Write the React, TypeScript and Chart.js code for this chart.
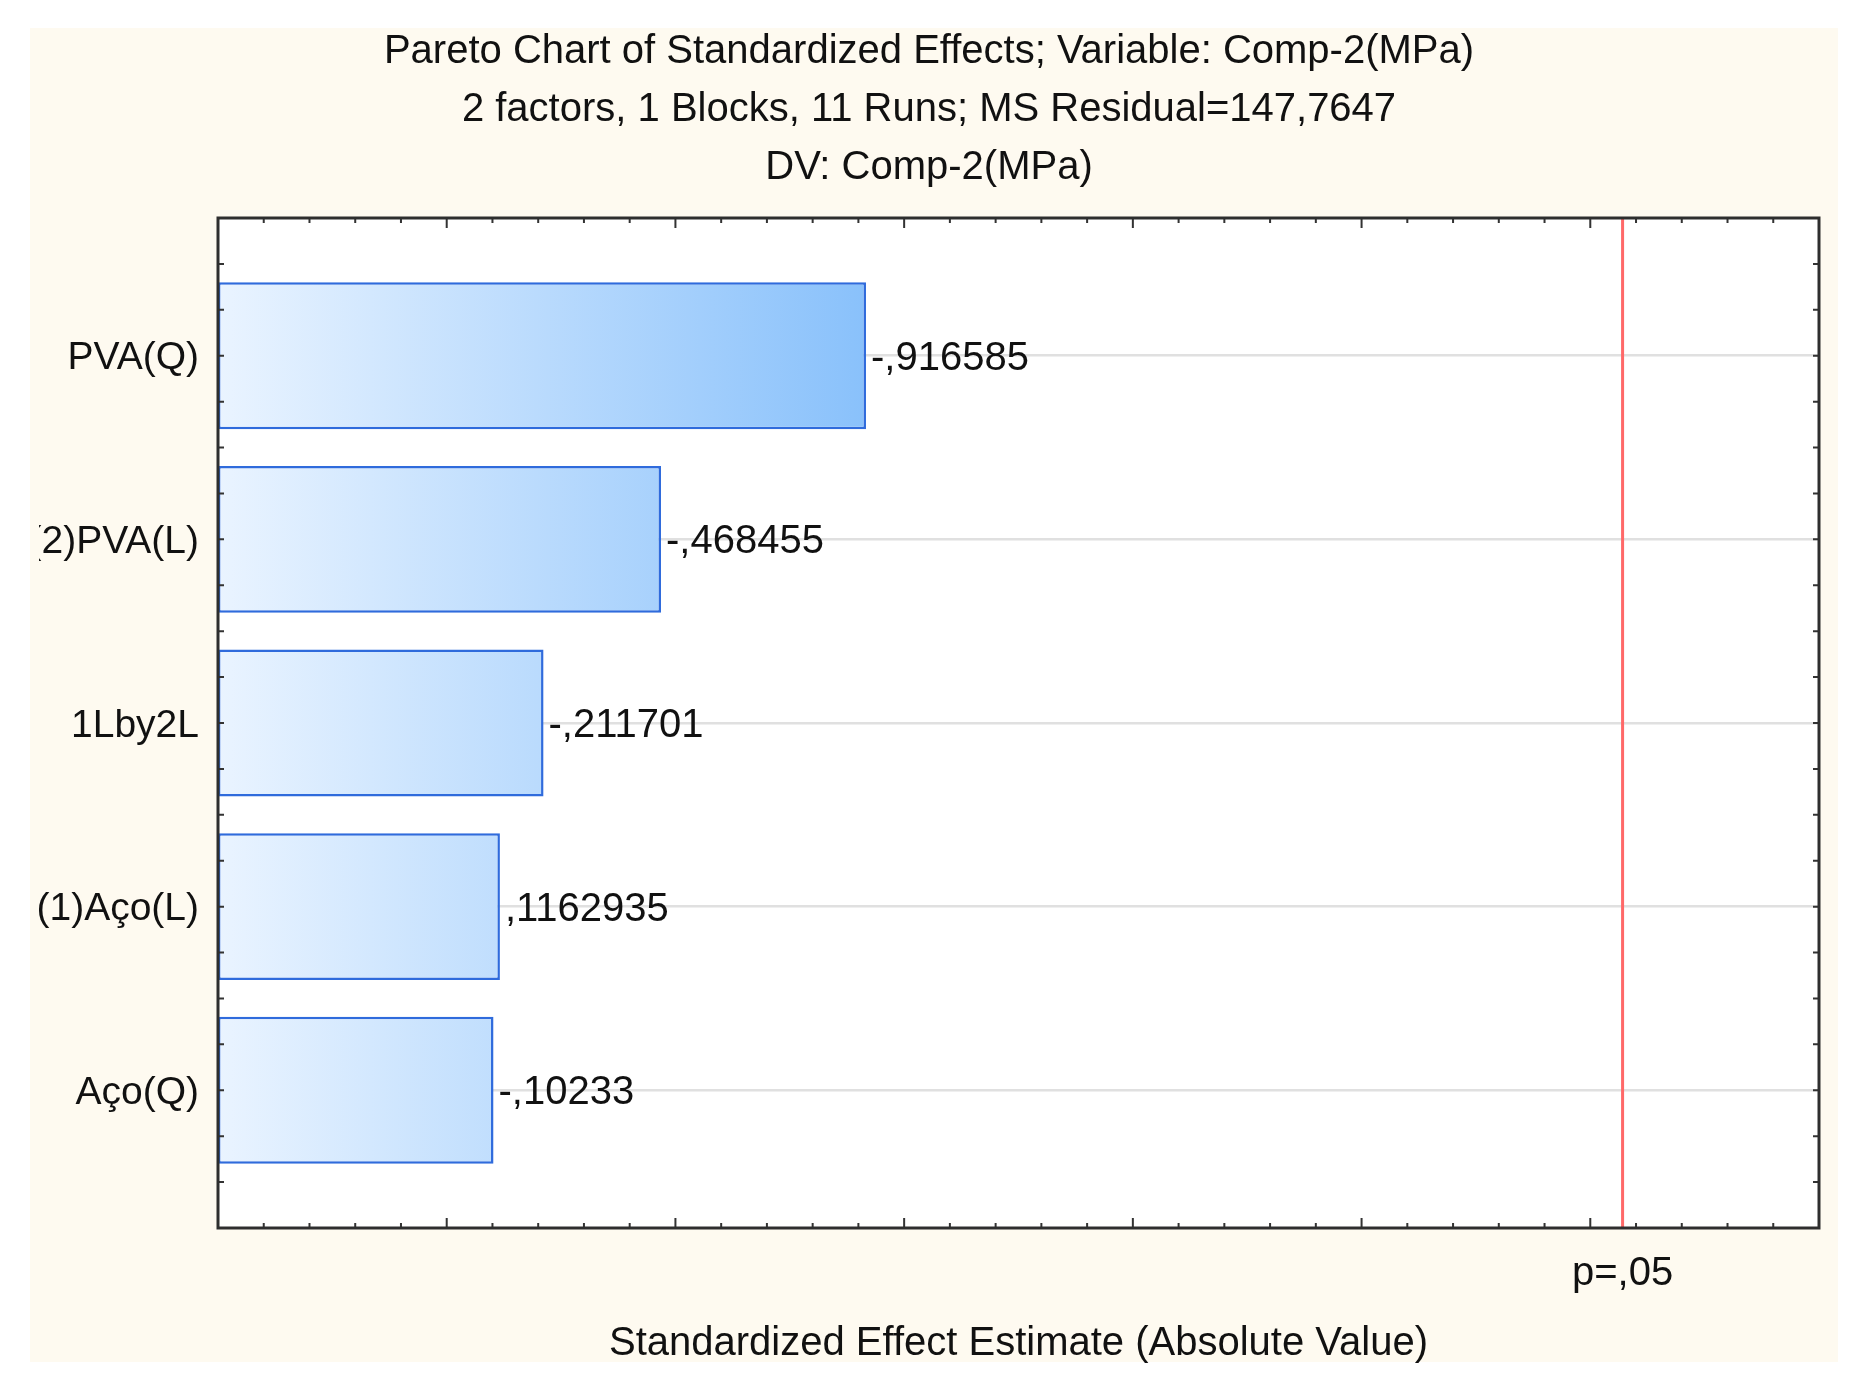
import React, { useEffect, useRef } from 'react';
import { Chart, registerables } from 'chart.js';

Chart.register(...registerables);

// ---------- data ----------
const titleLines = [
  'Pareto Chart of Standardized Effects; Variable: Comp-2(MPa)',
  '2 factors, 1 Blocks, 11 Runs; MS Residual=147,7647',
  'DV: Comp-2(MPa)',
];
const categories = ['PVA(Q)', '(2)PVA(L)', '1Lby2L', '(1)Aço(L)', 'Aço(Q)'];
const effects = [-0.916585, -0.468455, -0.211701, 0.1162935, -0.10233];
const xMin = -0.5;
const xMax = 3.0;
const xMajorStep = 0.5;
const xMinorStep = 0.1;
const yMin = -0.75;
const yMax = 4.75;
const yTickStep = 0.25;
const pCritical = 2.5706;
const pLabel = 'p=,05';
const xTitle = 'Standardized Effect Estimate (Absolute Value)';

// ---------- styles ----------
const FONT = "'Liberation Sans', Arial, Helvetica, sans-serif";
const TEXT = '#111111';
const CREAM = '#fefaf0';

const fmtEffect = (v: number) => String(v).replace('0.', ',');

const framePlugin = {
  id: 'statFrame',
  beforeDraw(chart: any) {
    const { ctx, chartArea } = chart;
    ctx.save();
    ctx.fillStyle = '#ffffff';
    ctx.fillRect(chartArea.left, chartArea.top, chartArea.right - chartArea.left, chartArea.bottom - chartArea.top);
    ctx.restore();
  },
  afterDatasetsDraw(chart: any) {
    const { ctx, chartArea, scales } = chart;
    const xs = scales.x;
    ctx.save();
    // critical value line
    const px = xs.getPixelForValue(pCritical);
    ctx.strokeStyle = 'rgb(255,105,105)';
    ctx.lineWidth = 3;
    ctx.beginPath();
    ctx.moveTo(px, chartArea.top);
    ctx.lineTo(px, chartArea.bottom);
    ctx.stroke();
    // value labels
    const meta = chart.getDatasetMeta(0);
    ctx.fillStyle = TEXT;
    ctx.font = `40px ${FONT}`;
    ctx.textAlign = 'left';
    ctx.textBaseline = 'middle';
    meta.data.forEach((bar: any, i: number) => {
      ctx.fillText(fmtEffect(effects[i]), bar.x + 5, bar.y + 3);
    });
    ctx.restore();
  },
  afterDraw(chart: any) {
    const { ctx, chartArea, scales } = chart;
    const { left, right, top, bottom } = chartArea;
    const xs = scales.x;
    const ys = scales.y;
    ctx.save();
    ctx.strokeStyle = '#333333';
    ctx.lineWidth = 2;
    const nx = Math.round((xMax - xMin) / xMinorStep);
    const perMajor = Math.round(xMajorStep / xMinorStep);
    for (let k = 0; k <= nx; k++) {
      const v = xMin + k * xMinorStep;
      const p = xs.getPixelForValue(v);
      const len = k % perMajor === 0 ? 10 : 5;
      ctx.beginPath();
      ctx.moveTo(p, bottom);
      ctx.lineTo(p, bottom - len);
      ctx.moveTo(p, top);
      ctx.lineTo(p, top + len);
      ctx.stroke();
    }
    const ny = Math.round((yMax - yMin) / yTickStep);
    for (let k = 0; k <= ny; k++) {
      const v = yMin + k * yTickStep;
      const p = ys.getPixelForValue(v);
      ctx.beginPath();
      ctx.moveTo(left, p);
      ctx.lineTo(left + 6, p);
      ctx.moveTo(right, p);
      ctx.lineTo(right - 6, p);
      ctx.stroke();
    }
    ctx.lineWidth = 3;
    ctx.strokeStyle = '#2e2e2e';
    ctx.strokeRect(left, top, right - left, bottom - top);
    ctx.restore();
  },
};

export default function App() {
  const canvasRef = useRef<HTMLCanvasElement | null>(null);

  useEffect(() => {
    const canvas = canvasRef.current;
    if (!canvas) return;
    const maxAbs = Math.max(...effects.map((e) => Math.abs(e)));
    const chart = new Chart(canvas, {
      type: 'bar',
      data: {
        datasets: [
          {
            data: effects.map((e, i) => ({ x: Math.abs(e), y: i })) as any,
            base: xMin,
            backgroundColor: (ctx: any) => {
              const c = ctx.chart;
              const xs = c.scales && c.scales.x;
              if (!c.chartArea || !xs) return '#bcdcfa';
              const g = c.ctx.createLinearGradient(xs.getPixelForValue(xMin), 0, xs.getPixelForValue(maxAbs), 0);
              g.addColorStop(0, '#eaf4ff');
              g.addColorStop(1, '#89c1fb');
              return g;
            },
            borderColor: '#2f6bdc',
            borderWidth: 2.5,
            borderSkipped: false,
            barPercentage: 0.8,
            categoryPercentage: 1,
          } as any,
        ],
      },
      options: {
        indexAxis: 'y',
        responsive: false,
        animation: false,
        devicePixelRatio: 1,
        layout: { padding: { left: 9, right: 19, top: 0, bottom: 0 } },
        plugins: {
          legend: { display: false },
          tooltip: { enabled: false },
          title: {
            display: true,
            text: titleLines,
            color: TEXT,
            font: { family: FONT, size: 40, weight: 'normal', lineHeight: 1.45 },
            padding: { top: 3, bottom: 21 },
          },
        },
        scales: {
          x: {
            type: 'linear',
            min: xMin,
            max: xMax,
            offset: false,
            afterBuildTicks: (s: any) => {
              s.ticks = [{ value: pCritical }];
            },
            afterFit: (s: any) => {
              s.height = 142;
            },
            ticks: {
              callback: (v: any) => (Math.abs(Number(v) - pCritical) < 1e-9 ? pLabel : ''),
              color: TEXT,
              font: { family: FONT, size: 40, lineHeight: 1.2 },
              padding: 22,
              maxRotation: 0,
              autoSkip: false,
            },
            grid: { display: false, drawTicks: false },
            border: { display: false },
            title: {
              display: true,
              text: xTitle,
              color: TEXT,
              font: { family: FONT, size: 40, lineHeight: 1.2 },
              padding: { top: 0, bottom: 2 },
            },
          },
          y: {
            type: 'linear',
            reverse: true,
            min: yMin,
            max: yMax,
            offset: false,
            afterBuildTicks: (s: any) => {
              s.ticks = categories.map((_, i) => ({ value: i }));
            },
            afterFit: (s: any) => {
              s.width = 179;
            },
            ticks: {
              callback: (v: any) => categories[Math.round(Number(v))] ?? '',
              color: TEXT,
              font: { family: FONT, size: 39, lineHeight: 1.2 },
              padding: 19,
              labelOffset: 3,
              autoSkip: false,
            },
            grid: { color: '#e0e0e0', lineWidth: 2.5, drawTicks: false, offset: false },
            border: { display: false },
          },
        },
      } as any,
      plugins: [framePlugin],
    });
    return () => chart.destroy();
  }, []);

  return (
    <div style={{ position: 'relative', width: 1848, height: 1375, background: '#ffffff' }}>
      <div style={{ position: 'absolute', left: 22, top: 20, width: 1808, height: 1334, background: CREAM }} />
      <div style={{ position: 'absolute', left: 22, top: 12, width: 1808, height: 1350 }}>
        <canvas ref={canvasRef} width={1808} height={1350} style={{ display: 'block', width: 1808, height: 1350 }} />
      </div>
    </div>
  );
}
